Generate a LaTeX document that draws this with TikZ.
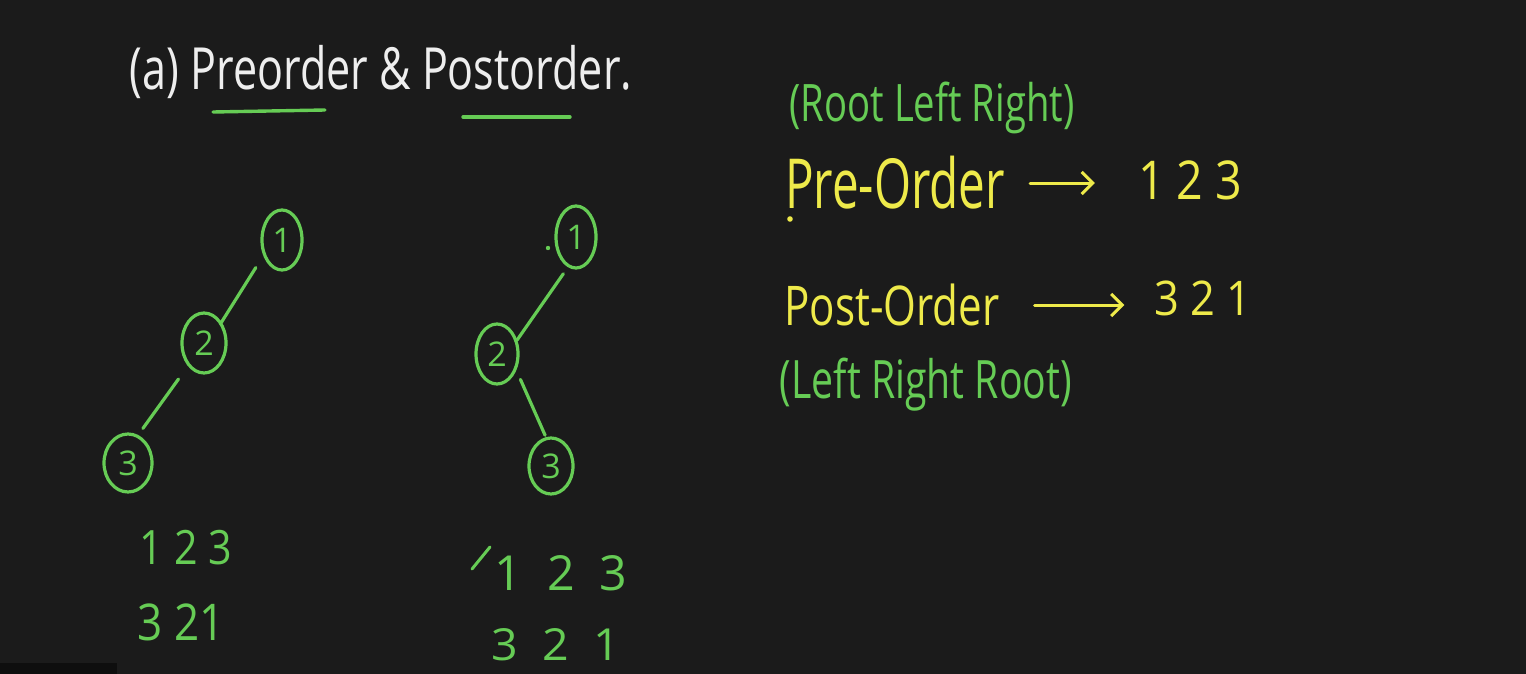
\documentclass[tikz,border=0pt]{standalone}
\usepackage{fontspec}
\setmainfont{Open Sans}
\usepackage{graphicx}
\usetikzlibrary{shapes.geometric,arrows.meta}
\definecolor{bg}{HTML}{1B1B1B}
\definecolor{bgdark}{HTML}{0E0E0E}
\definecolor{grn}{HTML}{66CC55}
\definecolor{yel}{HTML}{EEEA4A}
\definecolor{wht}{HTML}{EEEEEE}
\newcommand{\fitw}[3]{\resizebox{#1}{!}{\scalebox{1}[#2]{#3}}}
\begin{document}
\begin{tikzpicture}[x=1pt,y=-1pt,
  vtx/.style={ellipse,draw=grn,line width=3.2pt,inner sep=0pt,text=grn,font=\fontsize{34}{34}\selectfont},
  tedge/.style={draw=grn,line width=3.2pt,line cap=round},
  yarrow/.style={draw=yel,line width=3pt,line cap=round,-{Straight Barb[length=11pt,width=22pt,line width=3pt]}},
  txt/.style={inner sep=0pt,anchor=center},
  gtxt/.style={txt,text=grn},
  ytxt/.style={txt,text=yel},
  uline/.style={draw=grn,line width=3.4pt,line cap=round},
]
\useasboundingbox (0,0) rectangle (1526,674);
\fill[bg] (0,0) rectangle (1526,674);
\fill[bgdark] (0,663) rectangle (117,674);

% title
\node[txt,text=wht] (title) at (381,72) {\fitw{502pt}{1.35}{(a) Preorder \& Postorder.}};
\draw[uline] (213,112) -- (325,110);
\draw[uline] (463,117) -- (570,117);

% left tree
\node[vtx,minimum width=40pt,minimum height=60pt] (L1) at (282,240) {1};
\node[vtx,minimum width=44pt,minimum height=60pt] (L2) at (204,343) {2};
\node[vtx,minimum width=48pt,minimum height=58pt] (L3) at (128,463) {3};
\draw[tedge,shorten <=14pt,shorten >=-2pt] (L1.220) -- (L2.50);
\draw[tedge,shorten <=16pt,shorten >=8pt] (L2.235) -- (L3.70);

% right tree
\fill[grn] (548,248) circle (2.2);
\node[vtx,minimum width=40pt,minimum height=62pt] (R1) at (576,237) {1};
\node[vtx,minimum width=42pt,minimum height=60pt] (R2) at (497,354) {2};
\node[vtx,minimum width=44pt,minimum height=56pt] (R3) at (551,466) {3};
\draw[tedge,shorten <=8pt,shorten >=0pt] (R1.255) -- (R2.35);
\draw[tedge,shorten <=10pt,shorten >=2pt] (R2.-40) -- (R3.100);

% left sequences
\node[gtxt] (lpre) at (186,548) {\fitw{92pt}{1.15}{1 2 3}};
\node[gtxt] (lpost) at (181,622) {\fitw{87pt}{1.15}{3 21}};

% right sequences
\draw[uline,line width=3pt] (472,569) -- (490,547);
\node[gtxt] (rpre) at (561,573) {\fitw{133pt}{1}{1 \ 2 \ 3}};
\node[gtxt] (rpost) at (556,645) {\fitw{128pt}{0.95}{3 \ 2 \ 1}};

% right-hand notes
\node[gtxt] (rlr) at (932,108) {\fitw{285pt}{1.35}{(Root Left Right)}};
\node[ytxt] (pre) at (895,183) {\fitw{220pt}{1.45}{Pre-Order}};
\fill[yel] (790,219) circle (2.8);
\node[ytxt] (pre123) at (1190,180) {\fitw{104pt}{1.15}{1 2 3}};
\draw[yarrow,shorten <=25pt,shorten >=43pt] (pre.east) -- (pre123.west |- pre.east);
\node[ytxt] (post) at (892,305) {\fitw{215pt}{1.3}{Post-Order}};
\node[ytxt] (post321) at (1203,298) {\fitw{97pt}{1.1}{3 2 1}};
\draw[yarrow,shorten <=35pt,shorten >=30pt] (post.east) -- (post321.west |- post.east);
\node[gtxt] (lrr) at (926,385) {\fitw{292pt}{1.35}{(Left Right Root)}};
\end{tikzpicture}
\end{document}
